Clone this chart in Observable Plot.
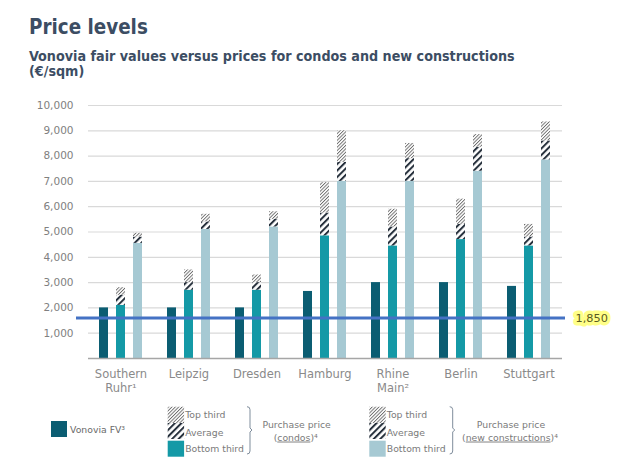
<!DOCTYPE html>
<html>
<head>
<meta charset="utf-8">
<script src="https://cdn.jsdelivr.net/npm/d3@7"></script>
<script src="https://cdn.jsdelivr.net/npm/@observablehq/plot@0.6"></script>
<style>
  html, body { margin: 0; padding: 0; background: #fff; }
  #wrap { position: relative; width: 640px; height: 470px; font-family: "DejaVu Sans", sans-serif; overflow: hidden; }
  .title { position: absolute; left: 29px; top: 17.4px; font-family: "DejaVu Sans Condensed", "DejaVu Sans", sans-serif; font-weight: bold; font-size: 20.4px; line-height: 20px; color: #3c4d63; white-space: nowrap; }
  .subtitle { position: absolute; left: 29px; top: 49.3px; font-family: "DejaVu Sans Condensed", "DejaVu Sans", sans-serif; font-weight: bold; font-size: 14.2px; line-height: 15px; color: #3c4d63; white-space: nowrap; }
  #chart { position: absolute; left: 0; top: 90px; }
  #legend { position: absolute; left: 0; top: 395px; }
</style>
</head>
<body>
<div id="wrap">
  <svg width="0" height="0" style="position:absolute">
    <defs>
      <pattern id="hatchAvg" patternUnits="userSpaceOnUse" width="4.6" height="4.6" patternTransform="rotate(45)">
        <rect width="4.6" height="4.6" fill="#ffffff"></rect>
        <rect width="2" height="4.6" fill="#26303c"></rect>
      </pattern>
      <pattern id="hatchTop" patternUnits="userSpaceOnUse" width="2.4" height="2.4" patternTransform="rotate(45)">
        <rect width="2.4" height="2.4" fill="#ffffff"></rect>
        <rect width="0.9" height="2.4" fill="#6a6a6a"></rect>
      </pattern>
    </defs>
  </svg>
  <div class="title">Price levels</div>
  <div class="subtitle">Vonovia fair values versus prices for condos and new constructions<br>(€/sqm)</div>
  <div id="chart"></div>
  <svg id="legend" width="640" height="75"></svg>
</div>
<script>
// ---- data ----
const regions = ["Southern\nRuhr¹", "Leipzig", "Dresden", "Hamburg", "Rhine\nMain²", "Berlin", "Stuttgart"];
const vonoviaFV = [2000, 2000, 2000, 2650, 3000, 3000, 2850];
const condoBottom = [2100, 2700, 2700, 4850, 4450, 4700, 4450];
const condoAverage = [2500, 3000, 3000, 5750, 5200, 5300, 4800];
const condoTop = [2800, 3500, 3300, 6950, 5900, 6300, 5300];
const newBottom = [4550, 5100, 5200, 7000, 7000, 7400, 7850];
const newAverage = [4800, 5400, 5500, 7750, 7900, 8350, 8600];
const newTop = [4950, 5700, 5800, 9000, 8500, 8850, 9350];
const yTicks = [1000, 2000, 3000, 4000, 5000, 6000, 7000, 8000, 9000, 10000];
const refLine = [{value: 1600, label: "1,850"}];

// ---- styles ----
const fvColor = "#0b5d72", condoColor = "#1499a6", newColor = "#a6c9d3";

const keyOf = (r, s) => r + "|" + s;
const seriesKeys = ["fv", "condo", "new"];
const xDomain = regions.flatMap((r, i) => {
  const k = seriesKeys.map(s => keyOf(r, s));
  if (i < regions.length - 1) k.push(keyOf(r, "gap"));
  return k;
});

const solid = regions.flatMap((r, i) => [
  {key: keyOf(r, "fv"), y1: 0, y2: vonoviaFV[i], color: fvColor},
  {key: keyOf(r, "condo"), y1: 0, y2: condoBottom[i], color: condoColor},
  {key: keyOf(r, "new"), y1: 0, y2: newBottom[i], color: newColor}
]);
const avgSeg = regions.flatMap((r, i) => [
  {key: keyOf(r, "condo"), y1: condoBottom[i], y2: condoAverage[i]},
  {key: keyOf(r, "new"), y1: newBottom[i], y2: newAverage[i]}
]);
const topSeg = regions.flatMap((r, i) => [
  {key: keyOf(r, "condo"), y1: condoAverage[i], y2: condoTop[i]},
  {key: keyOf(r, "new"), y1: newAverage[i], y2: newTop[i]}
]);
const labelTicks = regions.map(r => keyOf(r, "condo"));

const chart = Plot.plot({
  width: 640,
  height: 310,
  marginLeft: 88,
  marginRight: 78,
  marginTop: 15,
  marginBottom: 42,
  style: {fontFamily: "DejaVu Sans, sans-serif", background: "transparent"},
  x: {type: "band", domain: xDomain, paddingInner: 0.459, paddingOuter: 0.21, align: 0.5},
  y: {domain: [0, 10000]},
  marks: [
    Plot.gridY(yTicks, {stroke: "#d9d9d9", strokeOpacity: 1, strokeWidth: 1.2}),
    Plot.axisY({ticks: yTicks, tickFormat: d3.format(","), tickSize: 0, tickPadding: 15, fontSize: 10.5, color: "#808080", label: null}),
    Plot.axisX({ticks: labelTicks, tickFormat: k => k.split("|")[0], tickSize: 0, tickPadding: 9, fontSize: 11.5, color: "#8a8a8a", lineHeight: 1.24, label: null}),
    Plot.barY(solid, {x: "key", y1: "y1", y2: "y2", fill: "color"}),
    Plot.barY(avgSeg, {x: "key", y1: "y1", y2: "y2", fill: "url(#hatchAvg)"}),
    Plot.barY(topSeg, {x: "key", y1: "y1", y2: "y2", fill: "url(#hatchTop)"}),
    Plot.ruleY([0], {stroke: "#a6a6a6", strokeWidth: 1.5}),
    Plot.ruleY(refLine, {y: "value", stroke: "#4472c4", strokeWidth: 2.8, insetLeft: -12, insetRight: -3}),
    Plot.text(refLine, {y: "value", text: "label", frameAnchor: "right", dx: 13, textAnchor: "start", fontSize: 11.3, fill: "#5a5a1e", stroke: "#ffff88", strokeWidth: 7, strokeLinejoin: "round", paintOrder: "stroke"})
  ]
});
document.getElementById("chart").appendChild(chart);

// ---- legend ----
const lg = d3.select("#legend");
const legendText = "#7a7a7a";
lg.append("rect").attr("x", 51).attr("y", 26).attr("width", 16).attr("height", 16).attr("fill", fvColor);
lg.append("text").attr("x", 70).attr("y", 35).attr("dy", "0.35em").attr("font-size", 9.3).attr("fill", "#6a6a6a").text("Vonovia FV³");

const groupLabels = ["Top third", "Average", "Bottom third"];
function legendGroup(x0, baseColor, bracketX, centerX, line2) {
  lg.append("rect").attr("x", x0).attr("y", 11.7).attr("width", 16.4).attr("height", 16.3).attr("fill", "url(#hatchTop)");
  lg.append("rect").attr("x", x0).attr("y", 28).attr("width", 16.4).attr("height", 16).attr("fill", "url(#hatchAvg)");
  lg.append("rect").attr("x", x0).attr("y", 45.7).attr("width", 16.4).attr("height", 16).attr("fill", baseColor);
  [20, 37.7, 53.3].forEach((yy, j) => {
    lg.append("text").attr("x", x0 + 17.5).attr("y", yy).attr("dy", "0.35em").attr("font-size", 9.3).attr("fill", legendText).text(groupLabels[j]);
  });
  lg.append("path")
    .attr("d", `M${bracketX - 3},11.7 Q${bracketX},11.7 ${bracketX},14.7 L${bracketX},33 L${bracketX + 2},35 L${bracketX},37 L${bracketX},56 Q${bracketX},59 ${bracketX - 3},59`)
    .attr("fill", "none").attr("stroke", "#7f8d9c").attr("stroke-width", 1);
  lg.append("text").attr("x", centerX).attr("y", 30).attr("dy", "0.35em").attr("text-anchor", "middle").attr("font-size", 9.3).attr("fill", legendText).text("Purchase price");
  const t = lg.append("text").attr("x", centerX - 1).attr("y", 42.3).attr("dy", "0.35em").attr("text-anchor", "middle").attr("font-size", 9.3).attr("fill", legendText);
  t.append("tspan").text("(");
  t.append("tspan").attr("text-decoration", "underline").text(line2);
  t.append("tspan").text(")⁴");
}
legendGroup(167.7, condoColor, 250, 296.7, "condos");
legendGroup(369.3, newColor, 452.7, 511, "new constructions");
</script>
</body>
</html>
